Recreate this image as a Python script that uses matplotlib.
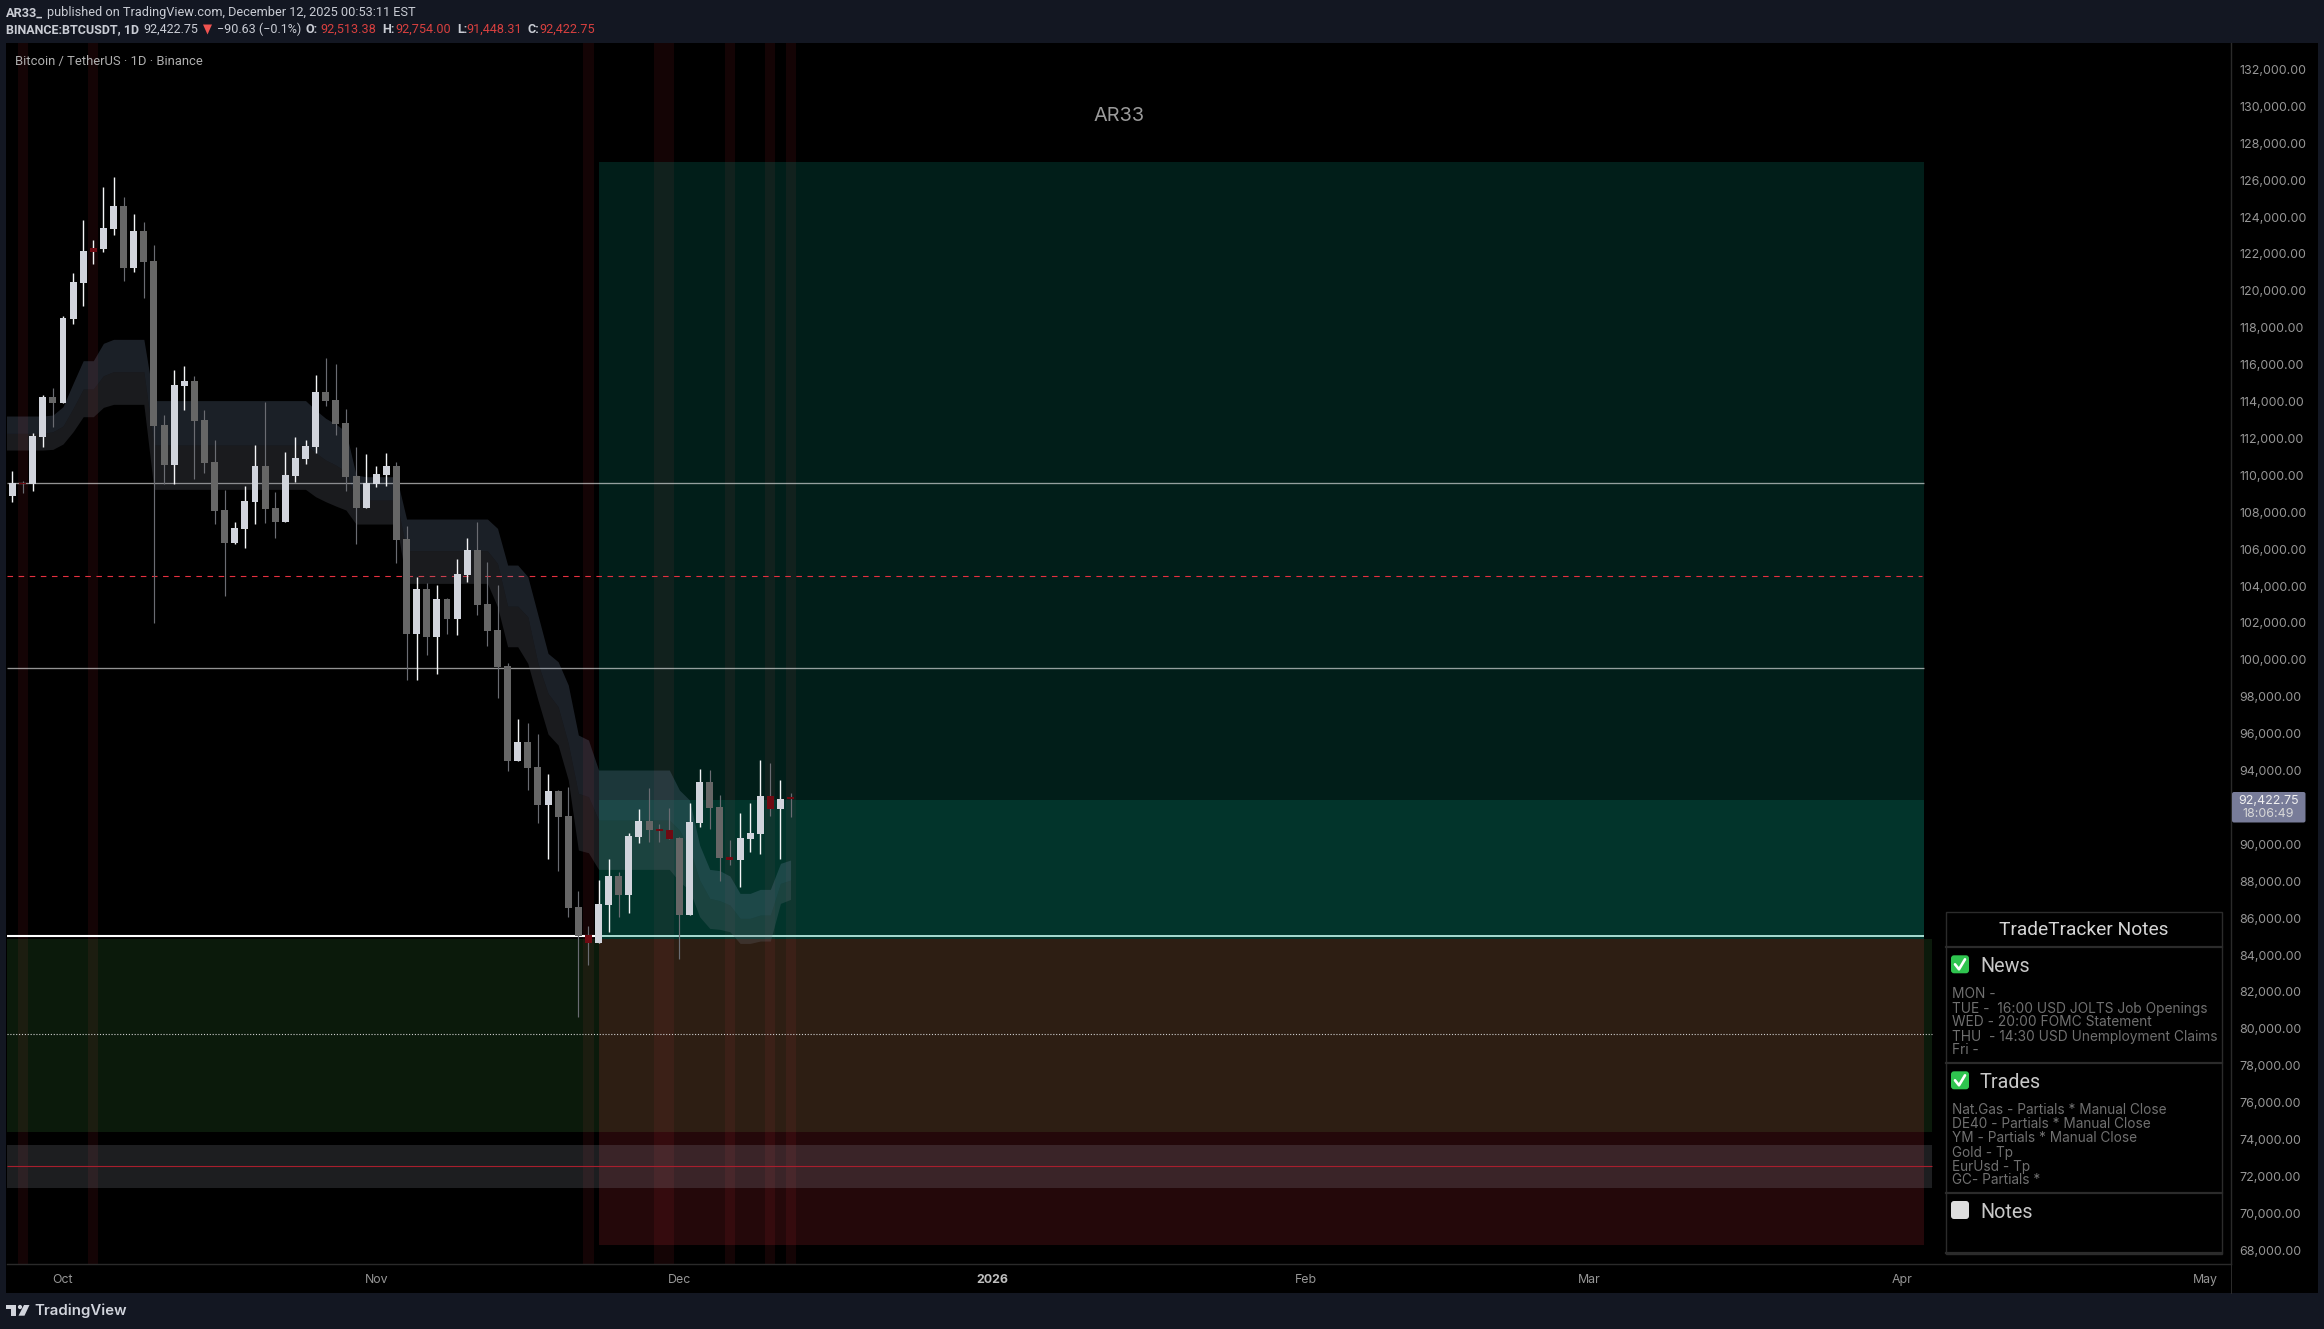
import numpy as np
import pandas as pd
import matplotlib
matplotlib.use("Agg")
import matplotlib.pyplot as plt
import matplotlib.dates as mdates
from matplotlib.patches import FancyBboxPatch, Rectangle, Polygon, Circle
from matplotlib.transforms import ScaledTranslation

# ---------------- data ----------------
dates = pd.date_range("2025-09-26", "2025-12-12", freq="D")
cloud_dates = pd.date_range("2025-09-25", "2025-12-12", freq="D")

opens = [108827,109532,109477,112025,114194,113868,118420,120372,122070,122215,123299,124546,121185,123191,
         121564,112676,110507,114790,115061,112947,110670,108068,106279,107038,108502,110453,108176,107417,
         109911,110833,111483,114465,114031,112784,109911,108176,109477,109965,110453,106496,101346,103785,
         101183,103243,102159,104544,105899,102972,101563,99615,94465,95495,94140,92079,92838,91483,86550,
         85032,84598,86658,88230,87201,90345,91212,90778,90724,90291,86116,91104,93326,91971,89261,89098,
         90236,90507,92567,91863,92513.38]
highs = [110182,109640,112242,114302,114681,118560,120895,123787,122703,125576,126118,125034,124112,123679,
         122431,113218,115657,115874,115332,113489,111863,109152,107417,109369,111591,113923,109044,111212,
         112025,111863,115386,116308,115983,113543,111483,111104,110453,111158,110670,107200,104436,104110,
         104002,103298,105412,106550,107417,105249,104002,99759,96742,96525,95928,93760,92893,93055,87417,
         85520,88014,89152,88447,90562,91863,93001,91050,91917,90345,92188,94031,93977,92622,90182,91646,
         92188,94519,94356,93435,92754.00]
lows = [108502,109008,109098,111483,112567,113850,118149,119125,121401,122052,122974,120480,120968,119559,
        101924,109477,109477,113489,109748,110074,107309,103406,106225,106008,107309,107363,106550,107417,
        109586,110562,111158,113706,112134,109098,106225,108176,109315,109369,105195,98852,98852,100207,
        99177,101346,101291,104165,102376,100695,97876,93923,94465,92893,91104,89152,88501,86008,80600,
        83406,84598,85195,86008,86225,90020,90074,90074,90236,83731,86116,90887,90778,87960,88827,87634,
        89532,89423,91483,89152,91448.31]
closes = [109532,109477,112079,114194,113868,118492,120426,122106,122269,123353,124546,121185,123191,121510,
          112622,110507,114844,115061,112892,110616,108014,106279,107092,108556,110453,108122,107417,109965,
          110887,111537,114465,113977,112730,109857,108176,109532,110019,110453,106442,101346,103785,101183,
          103243,102159,104598,105899,102918,101508,99557,94465,95495,94085,92079,92838,91429,86496,84978,
          84598,86713,88230,87201,90399,91212,90724,90670,90236,86116,91158,93326,91917,89206,89098,90291,
          90562,92567,91863,92405,92422.75]
flagged_dates = ["2025-09-27", "2025-10-04", "2025-11-22", "2025-11-29", "2025-11-30",
                 "2025-12-06", "2025-12-10", "2025-12-12"]

cloud_upper = [113164,113164,113164,113164,113164,113218,113670,114934,116163,116163,117103,117320,117320,117320,117320,
               114000,114000,114000,114000,114000,114000,114000,114000,114000,114000,114000,114000,114000,114000,
               114000,114000,113489,113037,112730,112314,109965,109875,109875,109875,109875,107580,107580,107580,
               107580,107580,107580,107580,107580,107580,107074,105086,105086,104454,102376,100298,99846,98585,
               95874,95603,93977,93977,93977,93977,93977,93977,93977,93977,92893,92351,89911,88592,88520,88231,
               87291,87291,87508,87508,88917,89098]
cloud_mid = [112224,112224,112224,112224,112224,112314,112621,113579,114627,114627,115350,115567,115567,115567,115567,
             111592,111592,111592,111592,111592,111592,111592,111592,111592,111592,111592,111592,111592,111592,
             111592,111592,111176,110778,110507,110146,108610,108610,108610,108610,108610,105863,105863,105863,
             105863,105863,105863,105863,105863,105863,105177,102864,102864,102286,99759,98133,97410,95422,
             92712,92531,91266,91266,91266,91266,91266,91266,91266,91266,90724,89730,88014,87020,86894,86658,
             85936,85936,86116,86116,87833,88014]
cloud_lower = [111320,111320,111320,111320,111320,111357,111646,112314,113127,113127,113633,113796,113796,113796,113796,
               109188,109188,109188,109188,109188,109188,109188,109188,109188,109188,109188,109188,109188,109188,
               109188,109188,108790,108520,108285,108068,107309,107309,107309,107309,107309,104092,104092,104092,
               104092,104092,104092,104092,104092,104092,102828,100659,100659,99756,97772,95928,95332,93435,
               89640,89495,88592,88592,88592,88592,88592,88592,88592,88592,87923,87472,86026,85394,85339,85213,
               84580,84580,84707,84707,86749,86966]

price_ticks = [p for p in range(68000, 134000, 2000) if p != 92000]
month_starts = ["2025-10-01", "2025-11-01", "2025-12-01", "2026-01-01", "2026-02-01",
                "2026-03-01", "2026-04-01", "2026-05-01"]
month_labels = ["Oct", "Nov", "Dec", "2026", "Feb", "Mar", "Apr", "May"]

target_top = 126950
entry_split = 92352
entry_level = 84964
zone_floor = 84840
stop_bottom = 68230
long_zone_bottom = 74373
band_low, band_high = 71322, 73653
level_grey_1 = 109520
level_grey_2 = 99490
level_red = 104473
level_dotted = 79670
level_crimson = 72500
last_price_text = "92,422.75"
countdown_text = "18:06:49"

news_lines = ["MON -", "TUE -  16:00 USD JOLTS Job Openings", "WED - 20:00 FOMC Statement",
              "THU  - 14:30 USD Unemployment Claims", "Fri -"]
trade_lines = ["Nat.Gas - Partials * Manual Close", "DE40 - Partials * Manual Close",
               "YM - Partials * Manual Close", "Gold - Tp", "EurUsd - Tp", "GC- Partials *"]

# ---------------- figure ----------------
W, H = 2324, 1329
NAVY = "#131722"
plt.rcParams["font.family"] = ["Inter", "DejaVu Sans"]
fig = plt.figure(figsize=(W / 100, H / 100), dpi=100, facecolor=NAVY)

def frame_axes(z):
    a = fig.add_axes([0, 0, 1, 1], zorder=z)
    a.set_xlim(0, W)
    a.set_ylim(H, 0)
    a.axis("off")
    a.patch.set_alpha(0)
    return a

back = frame_axes(0)
back.add_patch(Rectangle((6, 43), 2312, 1250, fc="black", ec="none"))

L, R, T, B = 7, 2231, 43, 1264
ax = fig.add_axes([L / W, 1 - B / H, (R - L) / W, (B - T) / H], zorder=1, facecolor="black")

x = mdates.date2num(dates)
cx = mdates.date2num(cloud_dates)
d0 = mdates.date2num(pd.Timestamp("2025-10-01"))
px_day = 10.105
ax.set_xlim(d0 + (L - 63) / px_day, d0 + (R - 63) / px_day)
ax.set_ylim(68000 - (B - 1249.3) / 0.01845, 68000 + (1249.3 - T) / 0.01845)

zone_start = mdates.date2num(pd.Timestamp("2025-11-23"))
zone_end = mdates.date2num(pd.Timestamp("2026-04-03 04:00"))
long_end = mdates.date2num(pd.Timestamp("2026-04-04"))
x_left = ax.get_xlim()[0]

# flagged day stripes
for d in flagged_dates:
    c = mdates.date2num(pd.Timestamp(d))
    ax.axvspan(c - 0.5, c + 0.5, color="#f23645", alpha=0.085, lw=0, zorder=1)

# zones
ax.fill_between([zone_start, zone_end], zone_floor, target_top, color="#089981", alpha=0.20, lw=0, zorder=1.1)
ax.fill_between([zone_start, zone_end], zone_floor, entry_split, color="#089981", alpha=0.18, lw=0, zorder=1.2)
ax.fill_between([x_left, long_end], long_zone_bottom, zone_floor, color="#4caf50", alpha=0.15, lw=0, zorder=1.1)
ax.fill_between([zone_start, zone_end], stop_bottom, zone_floor, color="#f23645", alpha=0.15, lw=0, zorder=1.2)
ax.fill_between([x_left, long_end], band_low, band_high, color="#9598a1", alpha=0.2, lw=0, zorder=1.3)

# levels
ax.hlines(level_grey_1, x_left, zone_end, color="white", alpha=0.58, lw=0.95, zorder=2)
ax.hlines(level_grey_2, x_left, zone_end, color="white", alpha=0.58, lw=0.95, zorder=2)
ax.hlines(level_red, x_left, d0 + (1921.7 - 63) / px_day, color="#e5303f", lw=0.8, linestyles=(0, (5, 5)), zorder=2)
ax.hlines(level_dotted, x_left, long_end, color="#cfcfcf", lw=0.8, linestyles=(0, (1, 1.6)), zorder=2)
ax.hlines(level_crimson, x_left, long_end, color="#a81e2d", lw=0.8, zorder=2)
ax.hlines(entry_level, x_left, zone_start, color="#ffffff", lw=1.5, zorder=2)
ax.hlines(entry_level, zone_start, zone_end, color="#a9dcd2", lw=1.4, zorder=2)

# cloud
ax.fill_between(cx, cloud_mid, cloud_upper, color="#788cac", alpha=0.23, lw=0, zorder=2.5)
ax.fill_between(cx, cloud_lower, cloud_mid, color="#717582", alpha=0.23, lw=0, zorder=2.5)

# candles
flag = set(mdates.date2num(pd.Timestamp(d)) for d in flagged_dates)
for xi, o, h, l, c in zip(x, opens, highs, lows, closes):
    up = c >= o
    wick = "#f4f5f7" if up else "#6a6c72"
    body = "#6e0a12" if xi in flag else ("#d1d4dc" if up else "#666666")
    ax.vlines(xi, l, h, color=wick, lw=1.0 if up else 0.85, zorder=3)
    ax.bar(xi, abs(c - o), bottom=min(o, c), width=0.69, color=body, lw=0, zorder=3.1)

# axes styling
for s in ["top", "left"]:
    ax.spines[s].set_visible(False)
for s in ["right", "bottom"]:
    ax.spines[s].set_color("#2a2a2a")
    ax.spines[s].set_linewidth(1.0)
ax.yaxis.tick_right()
ax.set_yticks(price_ticks)
ax.set_yticklabels([f"{p:,.2f}" for p in price_ticks], fontsize=8.95, color="#969696")
ax.set_xticks(mdates.date2num(pd.to_datetime(month_starts)))
ax.set_xticklabels(month_labels, fontsize=8.9, color="#969696")
ax.tick_params(axis="y", length=0, pad=6.3)
ax.tick_params(axis="x", length=0, pad=6.9)
down_1px = ScaledTranslation(0, -1 / 100, fig.dpi_scale_trans)
for lbl in ax.get_yticklabels():
    lbl.set_transform(lbl.get_transform() + down_1px)
for t, lab in zip(ax.get_xticklabels(), month_labels):
    if lab == "2026":
        t.set_fontweight("bold")
        t.set_color("#c0c0c0")

# ---------------- overlay ----------------
ui = frame_axes(2)
ui.plot([R, R], [B, 1293], color="#2a2a2a", lw=0.75)

def txt(px, py, s, size, color, ha="left", family=None, weight="normal", va="center"):
    return ui.text(px, py, s, fontsize=size, color=color, ha=ha, va=va, weight=weight,
                   family=family if family else ["Inter", "DejaVu Sans"])

HD = ["Roboto", "DejaVu Sans"]
RED = "#d8403f"
LT = "#c9ccd4"
ui.text(6, 12.7, "AR33_", fontsize=9.2, color=LT, weight="bold", family=HD, va="center")
ui.text(47, 12.7, "published on TradingView.com, December 12, 2025 00:53:11 EST", fontsize=9.2, color=LT,
        family=HD, va="center")
ui.text(6, 29.7, "BINANCE:BTCUSDT, 1D", fontsize=9.0, color=LT, weight="bold", family=HD, va="center")
ui.text(143, 29.7, "92,422.75", fontsize=9.0, color=LT, family=HD, va="center")
ui.add_patch(Polygon([[203, 24.5], [212, 24.5], [207.5, 34.5]], closed=True, fc="#ef5350", ec="none"))
ui.text(217.4, 29.7, "\u221290.63 (\u22120.1%)", fontsize=9.0, color=LT, family=HD, va="center")
for px, s, c, w in [(306, "O:", LT, "bold"), (320, "92,513.38", RED, "normal"),
                    (382, "H:", LT, "bold"), (395, "92,754.00", RED, "normal"),
                    (457, "L:", LT, "bold"), (466.5, "91,448.31", RED, "normal"),
                    (527, "C:", LT, "bold"), (539, "92,422.75", RED, "normal")]:
    ui.text(px, 29.7, s, fontsize=9.05, color=c, weight=w, family=HD, va="center")

ui.text(15, 61, "Bitcoin / TetherUS \u00b7 1D \u00b7 Binance", fontsize=9.35, color="#b0b0b0", family=HD, va="center")
txt(1119, 116, "AR33", 14.3, "#9a9a9a", ha="center")

# last price label
ui.add_patch(FancyBboxPatch((2232, 792), 73.5, 30.5, boxstyle="round,pad=0,rounding_size=2",
                            fc="#787c99", ec="none"))
txt(2269, 800.5, last_price_text, 8.95, "#f0f0f0", ha="center")
txt(2268, 814, countdown_text, 8.95, "#d8d8d8", ha="center")

# TradingView footer
LOGO = "#d1d4dc"
ui.add_patch(Polygon([[6, 1305], [16, 1305], [16, 1315.7], [11.3, 1315.7], [11.3, 1309], [6, 1309]], closed=True, fc=LOGO, ec="none"))
ui.add_patch(Circle((20, 1307), 2.1, fc=LOGO, ec="none"))
ui.add_patch(Polygon([[24, 1305], [29.5, 1305], [24.5, 1315.7], [18.5, 1315.7]], closed=True, fc=LOGO, ec="none"))
ui.text(34.3, 1311, "TradingView", fontsize=10.8, color=LOGO, weight="semibold",
        family=["Inter", "DejaVu Sans"], va="center")

# notes table
BORDER = "#2b2b2b"
ui.add_patch(Rectangle((1945.5, 911.5), 276, 342.5, fc="black", ec=BORDER, lw=1.0, zorder=3))
for yy in [946.7, 1062.7, 1192.7, 1253]:
    ui.plot([1945.5, 2221.5], [yy, yy], color=BORDER, lw=1.6, zorder=3.1)
ui.text(2084, 930, "TradeTracker Notes", fontsize=13.8, color="#d6d6d6", ha="center", va="center",
        family=HD, zorder=4)

def check(yc):
    ui.add_patch(FancyBboxPatch((1951, yc - 9), 18, 18, boxstyle="round,pad=0,rounding_size=3",
                                fc="#2fc44f", ec="none", zorder=4))
    ui.plot([1955, 1959, 1965], [yc, yc + 5, yc - 5], color="white", lw=1.9, zorder=5, solid_capstyle="round")

check(964.3)
check(1080.3)
ui.add_patch(FancyBboxPatch((1951, 1201), 18, 18, boxstyle="round,pad=0,rounding_size=3",
                            fc="#dcdcdc", ec="none", zorder=4))
for yy, s in [(966, "News"), (1082, "Trades"), (1212, "Notes")]:
    ui.text(1980, yy, s, fontsize=14.2, color="#c8c8c8", va="center", family=HD, zorder=4)
for i, s in enumerate(news_lines):
    txt(1951.5, 994.5 + 14 * i, s, 9.9, "#707070").set_zorder(4)
for i, s in enumerate(trade_lines):
    txt(1951.5, 1110.5 + 14 * i, s, 9.8, "#707070").set_zorder(4)

fig.savefig("out.png", dpi=100, facecolor=NAVY)
